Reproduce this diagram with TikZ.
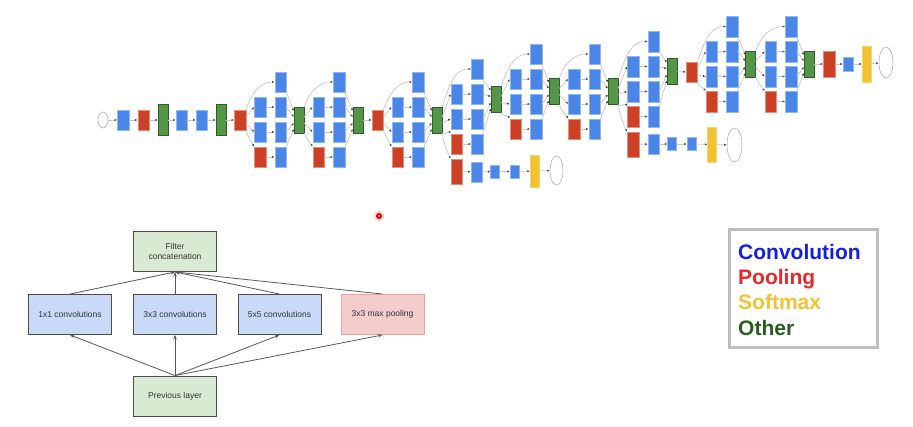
\documentclass[tikz,border=0pt]{standalone}
\usepackage{fontspec}
\setmainfont{Liberation Sans}
\usepackage{tikz}
\usetikzlibrary{arrows.meta,shapes.geometric}
\definecolor{convcol}{RGB}{74,134,232}
\definecolor{poolcol}{RGB}{204,65,37}
\definecolor{othercol}{RGB}{84,150,72}
\definecolor{softcol}{RGB}{241,194,50}
\definecolor{lightblue}{RGB}{201,218,248}
\definecolor{lightgreen}{RGB}{217,234,211}
\definecolor{lightpink}{RGB}{244,204,204}
\definecolor{pinkline}{RGB}{234,160,160}
\definecolor{legblue}{RGB}{20,30,230}
\definecolor{legred}{RGB}{232,40,40}
\definecolor{legyellow}{RGB}{241,194,50}
\definecolor{leggreen}{RGB}{39,94,30}
\tikzset{
	convbox/.style={rectangle, fill=convcol, draw=convcol!60!white, line width=0.4pt, minimum width=11.5pt, minimum height=20.5pt, inner sep=0pt},
	poolbox/.style={convbox, fill=poolcol, draw=poolcol!60!white},
	otherbox/.style={convbox, fill=othercol, draw=othercol!60!black, minimum width=10pt},
	softbox/.style={convbox, fill=softcol, draw=softcol!70!white, minimum width=9pt},
	fcbox/.style={convbox, minimum width=9pt, minimum height=13pt},
	outnode/.style={ellipse, draw=black!35, fill=white, line width=0.5pt, inner sep=0pt},
	wire/.style={draw=black!22, line width=0.7pt, -{Latex[length=2.5pt,width=2.2pt,color=black!75]}},
	layerbox/.style={rectangle, draw=black!70, line width=0.9pt, minimum width=83pt, minimum height=40pt, align=center, font=\fontsize{8.5}{10}\selectfont, text=black!80},
	flow/.style={draw=black!65, line width=0.8pt, -{Stealth[length=4.5pt,width=3.5pt]}},
	legtext/.style={anchor=base west, inner sep=0pt, font=\fontsize{21}{24}\selectfont\bfseries}
}
% one inception block: name, input, (first column x, top y), (concat x, concat y)
\def\inception#1#2(#3,#4)(#5,#6){
	\node[convbox] (#1a) at (#3+20.5,#4) {};
	\node[convbox] (#1b1) at (#3,#4+25) {};
	\node[convbox] (#1b2) at (#3+20.5,#4+25) {};
	\node[convbox] (#1c1) at (#3,#4+50) {};
	\node[convbox] (#1c2) at (#3+20.5,#4+50) {};
	\node[poolbox] (#1d1) at (#3,#4+75) {};
	\node[convbox] (#1d2) at (#3+20.5,#4+75) {};
	\node[otherbox, minimum height=26pt] (#1) at (#5,#6) {};
	\draw[wire] (#2.north east) to[out=70,in=180] (#1a.west);
	\draw[wire] ([yshift=3pt]#2.east) -- (#1b1.west);
	\draw[wire] ([yshift=-3pt]#2.east) -- (#1c1.west);
	\draw[wire] (#2.south east) to[out=-70,in=120] (#1d1.north west);
	\draw[wire] (#1b1) -- (#1b2);
	\draw[wire] (#1c1) -- (#1c2);
	\draw[wire] (#1d1) -- (#1d2);
	\draw[wire] (#1a.south east) -- ([yshift=9pt]#1.west);
	\draw[wire] (#1b2.east) -- ([yshift=3pt]#1.west);
	\draw[wire] (#1c2.east) -- ([yshift=-3pt]#1.west);
	\draw[wire] (#1d2.north east) -- ([yshift=-9pt]#1.west);
}

\begin{document}
\begin{tikzpicture}[x=1pt,y=-1pt]
		\useasboundingbox (0,0) rectangle (913,427);
		%%%%% START %%%%%
		% stem
		\node[outnode, minimum width=10pt, minimum height=16pt] (input) at (103,120) {};
		\node[convbox] (conv1) at (123,120) {};
		\node[poolbox] (pool1) at (143.5,120) {};
		\node[otherbox, minimum height=31pt] (norm1) at (163,120) {};
		\node[convbox] (conv2r) at (181.5,120) {};
		\node[convbox] (conv2) at (201.5,120) {};
		\node[otherbox, minimum height=31pt] (norm2) at (221,120) {};
		\node[poolbox] (pool2) at (240,120) {};
		\draw[wire] (input) -- (conv1);
		\draw[wire] (conv1) -- (pool1);
		\draw[wire] (pool1) -- (norm1);
		\draw[wire] (norm1) -- (conv2r);
		\draw[wire] (conv2r) -- (conv2);
		\draw[wire] (conv2) -- (norm2);
		\draw[wire] (norm2) -- (pool2);
		
		% inception blocks
		\inception{i3a}{pool2}(260,82)(299,120)
		\inception{i3b}{i3a}(318.5,82)(358,120)
		\node[poolbox] (pool3) at (377.5,120) {};
		\draw[wire] (i3b) -- (pool3);
		\inception{i4a}{pool3}(397.5,82)(437,120)
		\inception{i4b}{i4a}(456.5,69)(496,99.5)
		\inception{i4c}{i4b}(515.5,54)(554,91.5)
		\inception{i4d}{i4c}(574,54)(613,91.5)
		\inception{i4e}{i4d}(633,41.5)(672,71.5)
		\node[poolbox] (pool4) at (691.5,72) {};
		\draw[wire] (i4e) -- (pool4);
		\inception{i5a}{pool4}(711.5,26.5)(750.5,64)
		\inception{i5b}{i5a}(770.5,26.5)(809,64)
		
		% head
		\node[poolbox, minimum height=26pt] (pool5) at (829,64) {};
		\node[fcbox, minimum width=10pt, minimum height=14pt] (fc) at (848,64) {};
		\node[softbox, minimum height=36pt] (soft2) at (866.5,64) {};
		\node[outnode, minimum width=14pt, minimum height=31pt] (out2) at (886,62.5) {};
		\draw[wire] (i5b) -- (pool5);
		\draw[wire] (pool5) -- (fc);
		\draw[wire] (fc) -- (soft2);
		\draw[wire] (soft2) -- (out2);
		
		% side branch 1
		\node[poolbox, minimum height=25pt] (aux1pool) at (456.5,171.5) {};
		\node[convbox] (aux1conv) at (476.5,172) {};
		\node[fcbox] (aux1fc1) at (495,171.5) {};
		\node[fcbox] (aux1fc2) at (514.5,171.5) {};
		\node[softbox, minimum height=32pt] (soft0) at (534.5,171) {};
		\node[outnode, minimum width=13pt, minimum height=29pt] (out0) at (556.5,170.5) {};
		\draw[wire] (i4a.south east) to[out=-80,in=115] (aux1pool.north west);
		\draw[wire] (aux1pool) -- (aux1conv);
		\draw[wire] (aux1conv) -- (aux1fc1);
		\draw[wire] (aux1fc1) -- (aux1fc2);
		\draw[wire] (aux1fc2) -- (soft0);
		\draw[wire] (soft0) -- (out0);
		
		% side branch 2
		\node[poolbox, minimum height=25pt] (aux2pool) at (633,144.5) {};
		\node[convbox] (aux2conv) at (653.5,144) {};
		\node[fcbox] (aux2fc1) at (672,144) {};
		\node[fcbox] (aux2fc2) at (691.5,144) {};
		\node[softbox, minimum height=35pt] (soft1) at (712,144.5) {};
		\node[outnode, minimum width=15pt, minimum height=34pt] (out1) at (734.5,145) {};
		\draw[wire] (i4d.south east) to[out=-80,in=115] (aux2pool.north west);
		\draw[wire] (aux2pool) -- (aux2conv);
		\draw[wire] (aux2conv) -- (aux2fc1);
		\draw[wire] (aux2fc1) -- (aux2fc2);
		\draw[wire] (aux2fc2) -- (soft1);
		\draw[wire] (soft1) -- (out1);
		
		% pointer dot
		\fill[red!15] (379,216) circle (5.5pt);
		\fill[red!85!black] (379,216) circle (3pt);
		\fill[red!35] (379,216) circle (1.2pt);
		
		% module detail
		\node[layerbox, fill=lightgreen] (filter) at (175,251.5) {Filter\\concatenation};
		\node[layerbox, fill=lightblue] (conv1x1) at (70,314.5) {1x1 convolutions};
		\node[layerbox, fill=lightblue] (conv3x3) at (175,314.5) {3x3 convolutions};
		\node[layerbox, fill=lightblue] (conv5x5) at (279.5,314.5) {5x5 convolutions};
		\node[layerbox, fill=lightpink, draw=pinkline] (maxpool) at (382.5,314.5) {3x3 max pooling};
		\node[layerbox, fill=lightgreen] (prev) at (175,396) {Previous layer};
		\draw[flow] (prev.north) -- (conv1x1.south);
		\draw[flow] (prev.north) -- (conv3x3.south);
		\draw[flow] (prev.north) -- (conv5x5.south);
		\draw[flow] (prev.north) -- (maxpool.south);
		\draw[flow] (conv1x1.north) -- (filter.south);
		\draw[flow] (conv3x3.north) -- (filter.south);
		\draw[flow] (conv5x5.north) -- (filter.south);
		\draw[flow] (maxpool.north) -- (filter.south);
		
		% legend
		\node[draw=black!25, line width=3pt, minimum width=148pt, minimum height=118pt, inner sep=0pt] (legend) at (803.8,288.8) {};
		\node[legtext, text=legblue] (lconv) at (738,259.5) {Convolution};
		\node[legtext, text=legred] (lpool) at (738,284.7) {Pooling};
		\node[legtext, text=legyellow] (lsoft) at (738,309.9) {Softmax};
		\node[legtext, text=leggreen] (lother) at (738,335.1) {Other};
		%%%%% END %%%%%
	\end{tikzpicture}
\end{document}
